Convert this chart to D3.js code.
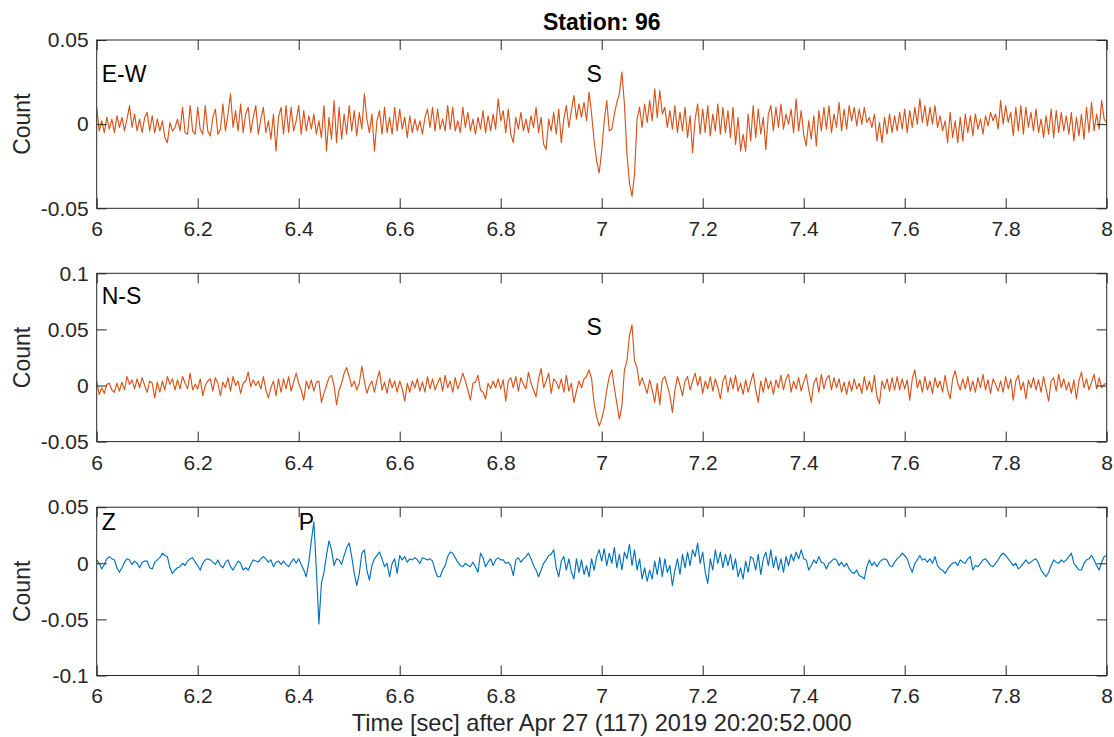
<!DOCTYPE html>
<html>
<head>
<meta charset="utf-8">
<script src="https://cdn.jsdelivr.net/npm/d3@7"></script>
<style>
  body { margin: 0; background: #fff; }
  svg { display: block; }
  text { font-family: "Liberation Sans", Arial, Helvetica, sans-serif; }
</style>
</head>
<body>
<svg id="chart" width="1114" height="737"></svg>
<script>
// ---------------- data ----------------
const chartTitle = "Station: 96";
const xAxisLabel = "Time [sec] after Apr 27 (117) 2019 20:20:52.000";
const yAxisLabel = "Count";
const startTime = 6;          // seconds
const sampleInterval = 0.005; // seconds between samples
const timeDomain = [6, 8];

const xTicks = [6, 6.2, 6.4, 6.6, 6.8, 7, 7.2, 7.4, 7.6, 7.8, 8];
const xTickLabels = ["6", "6.2", "6.4", "6.6", "6.8", "7", "7.2", "7.4", "7.6", "7.8", "8"];

const componentNames = ["E-W", "N-S", "Z"];
const phaseNames = ["S", "S", "P"];
const phaseTimes = [6.97, 6.97, 6.40];

const ewYDomain = [-0.05, 0.05];
const ewYTicks = [-0.05, 0, 0.05];
const ewYTickLabels = ["-0.05", "0", "0.05"];
const nsYDomain = [-0.05, 0.1];
const nsYTicks = [-0.05, 0, 0.05, 0.1];
const nsYTickLabels = ["-0.05", "0", "0.05", "0.1"];
const zYDomain = [-0.1, 0.05];
const zYTicks = [-0.1, -0.05, 0, 0.05];
const zYTickLabels = ["-0.1", "-0.05", "0", "0.05"];

// E-W component, one value every 5 ms from 6.000 s to 8.000 s
const ewValues = [
 .010,-.004,.002,-.005,.004,-.003,.003,-.005,.005,-.002,
 .004,-.004,.003,.011,-.002,.006,-.004,.003,-.005,.004,
 .007,-.004,.005,-.005,.003,-.004,.002,-.008,-.011,.001,
 -.004,-.002,.003,-.004,.010,-.005,-.006,.011,-.004,-.006,
 .010,-.003,-.006,.011,-.004,-.007,.004,.009,-.006,-.003,
 .012,-.004,.006,.018,-.002,.008,-.004,.012,-.005,.006,
 .010,-.005,.004,.011,-.006,.003,.010,-.005,.002,-.009,
 .006,-.016,.004,.010,-.006,.011,-.005,.010,-.004,.002,
 .011,-.006,.008,-.004,.005,-.003,.006,-.006,.002,-.008,
 .011,-.016,.004,-.009,.014,-.011,.010,-.009,.006,-.006,
 .011,-.004,.008,-.007,.007,-.003,.018,.003,-.005,.006,
 -.016,.002,.008,-.006,.010,-.005,.004,-.006,.010,-.004,
 .009,-.003,.004,-.008,.005,-.005,.003,-.004,.002,-.006,
 .004,.009,-.002,.010,-.004,.009,-.003,.003,-.004,.011,
 -.003,.010,-.004,.002,-.005,.010,-.002,.007,-.004,.003,
 -.006,.004,-.003,.008,-.005,.005,-.004,.006,-.003,.015,
 .002,.008,-.005,.009,-.006,-.011,.004,-.003,.007,-.004,
 .003,-.005,.005,-.002,.010,-.005,.004,-.012,-.015,.003,
 -.004,.007,-.006,.009,-.011,.003,.011,-.002,.008,.017,
 .003,.012,.004,.013,.002,.019,.006,-.010,-.022,-.029,
 -.016,.002,.014,-.004,-.003,.006,.013,.018,.031,.012,
 -.018,-.035,-.043,-.030,.003,.010,-.002,.012,.001,.014,
 .002,.021,.004,.020,.006,.010,-.002,.008,-.003,.011,
 -.005,.007,-.004,.010,-.008,.005,-.017,.003,.012,-.006,
 .009,-.005,.011,-.007,.006,-.004,.012,-.006,.010,-.005,
 .008,-.008,.010,-.012,.004,-.016,-.006,-.016,.006,-.010,
 .011,-.008,.009,-.006,.004,-.015,.006,.011,-.004,.010,
 -.002,.012,-.003,.006,.000,.009,-.005,.015,-.004,.008,
 -.006,-.013,.002,-.009,.005,-.013,.008,-.004,.010,-.003,
 .011,-.005,.006,-.002,.013,-.004,.009,-.003,.011,.002,
 .010,-.001,.009,.000,.010,.001,.004,-.002,.006,-.010,
 .001,-.011,.004,-.006,.006,-.005,.005,-.004,.007,-.003,
 .009,-.005,.008,-.002,.010,.000,.015,.001,.011,-.001,
 .010,.000,.011,-.002,.005,-.004,.002,-.011,.007,-.008,
 .002,-.011,.004,-.010,.006,-.005,.005,-.007,.006,-.003,
 .003,-.006,.005,-.001,.007,.002,.006,-.003,.014,.000,
 .011,.001,.007,-.007,.010,-.004,.011,-.006,.010,-.002,
 .007,-.004,.009,-.005,.003,-.008,.005,-.006,.009,-.008,
 .008,-.005,.007,-.004,.005,-.006,.007,-.010,.004,-.007,
 .006,-.009,.010,-.005,.013,-.004,.006,-.003,.014,.003,
 .001
];

// N-S component
const nsValues = [
 .004,-.008,-.002,-.007,.001,.002,-.004,-.006,.002,-.005,
 .003,-.004,.008,.001,.005,-.003,.006,-.002,.007,.000,
 -.006,.004,.002,-.011,.003,-.006,.004,-.004,.008,.001,
 .006,-.004,.005,-.003,.008,.002,-.003,.011,-.004,.001,
 -.003,.006,-.009,.000,.004,.006,-.005,.007,.002,-.009,
 .003,-.002,.007,-.005,.008,.000,.004,-.007,.002,.004,
 .012,-.001,.005,.000,.004,-.003,.008,-.004,-.011,-.002,
 .004,-.009,.006,-.006,.006,-.003,.008,-.005,.003,.011,
 .002,-.004,-.013,.004,-.003,.005,-.005,.003,.004,-.015,
 -.007,.000,.007,.009,.000,-.017,-.004,.002,.011,.016,
 .008,-.001,.004,-.004,.002,.017,.004,-.007,.000,.004,
 -.006,.005,.013,-.004,.003,-.007,.006,-.002,.004,-.006,
 .004,-.003,-.014,.002,-.006,.004,-.002,.006,-.005,.003,
 -.006,.008,-.003,.006,-.004,.002,.007,-.005,.009,-.002,
 .004,-.006,.007,-.003,.003,.011,.004,-.004,-.013,.002,
 .003,.009,-.004,-.006,-.012,.002,-.003,.004,-.002,.006,
 -.003,.005,-.014,.004,.007,-.002,.008,-.005,.007,.001,
 -.003,.012,.002,-.004,-.010,.006,.015,-.002,.004,.011,
 -.007,.006,.003,-.003,.006,-.006,.009,-.005,.002,-.015,
 -.005,.004,-.002,.006,.008,.014,.006,-.016,-.028,-.036,
 -.030,-.020,-.004,.008,.014,-.002,-.016,-.030,-.018,.014,
 .022,.045,.054,.022,.016,.000,.007,.000,-.007,.005,
 -.004,-.015,.002,-.017,.005,.008,.000,-.009,-.024,-.004,
 .008,.000,-.009,.004,.008,-.004,.004,.011,.000,.008,
 -.007,.004,-.003,.008,-.005,.006,-.002,-.012,.004,.009,
 -.006,.007,-.003,.009,-.005,.002,-.008,.005,-.006,.003,
 .011,-.004,-.015,.004,-.006,.007,-.003,.004,-.008,.005,
 -.002,.009,-.004,.006,.010,-.006,.004,-.003,.007,-.005,
 .003,.010,-.004,-.015,.002,.007,-.006,.010,-.003,.006,
 .009,-.004,.007,-.002,.006,-.006,.003,-.008,.004,-.005,
 .006,-.003,.002,-.007,.008,-.004,.004,-.006,.009,-.010,
 -.016,.004,-.003,.006,-.005,.007,-.004,.008,-.004,.006,
 -.003,.005,-.013,.006,.014,-.002,.005,-.006,.008,-.004,
 .004,-.007,.007,-.002,.004,-.006,.009,-.004,-.012,.006,
 .013,.002,-.004,.006,-.003,.008,-.005,.004,-.006,.007,
 -.002,.010,-.004,.005,-.007,.006,.001,-.005,.004,-.006,
 .008,-.003,.006,-.013,.004,.009,-.004,.003,-.012,.005,
 -.002,.007,-.004,.005,-.006,.008,-.003,-.014,.004,.007,
 -.005,.010,-.002,.006,-.004,.003,-.007,.005,-.012,.004,
 .012,-.002,.006,-.004,.003,.010,-.003,.007,-.002,.001,
 .002
];

// Z (vertical) component
const zValues = [
 .003,.000,-.005,-.001,.004,.006,.004,.003,-.004,-.008,
 -.004,.001,.004,.003,-.001,.002,.000,-.004,.001,.002,
 .002,-.004,-.005,.001,.003,.005,.009,.007,.006,-.004,
 -.009,-.006,-.004,-.003,.000,-.002,.002,.004,.005,.001,
 -.002,-.006,.000,.003,.004,.003,.001,-.001,.003,-.002,
 -.004,.001,.003,-.003,-.006,-.002,.002,.000,-.006,-.004,
 -.006,-.001,.003,.002,.001,.004,.006,.004,.001,.003,
 -.003,.001,.002,-.001,.002,-.001,-.003,.001,.004,.000,
 .004,-.001,-.006,-.012,.001,.020,.037,-.006,-.054,-.018,
 -.008,.007,.020,.012,-.002,.004,.003,-.001,.007,.014,
 .018,.006,-.009,-.020,-.009,.009,.012,-.006,-.015,-.002,
 .004,.007,.010,.004,-.003,.000,-.012,.000,.004,-.009,
 .007,.003,.006,.001,.004,.003,.005,.003,.000,.005,
 .004,.003,.004,.002,-.006,-.012,-.012,-.006,-.002,.006,
 .010,.009,.005,.001,-.002,-.003,.000,-.002,-.003,.001,
 -.003,-.008,.009,.005,-.003,.001,.004,-.002,.003,.005,
 .003,.003,.000,.001,-.002,-.011,.003,.005,.001,.004,
 .006,.009,.004,-.002,-.006,-.012,-.006,.000,.003,.007,
 .008,.012,-.004,-.012,.002,.006,-.006,.004,-.008,-.014,
 .004,-.008,.003,-.010,-.002,-.012,.004,-.006,.006,.012,
 .002,.013,-.002,.009,.000,.014,-.004,.008,-.006,.010,
 .004,.017,-.002,.012,-.006,.004,-.014,-.004,-.016,-.006,
 -.014,.002,-.010,.005,-.012,.004,-.008,-.002,-.020,-.006,
 .004,-.010,.008,-.004,.010,-.002,.012,.006,.018,.000,
 .010,-.008,-.018,.004,-.006,.012,.000,.010,-.004,.008,
 -.002,.008,-.006,.004,-.012,-.004,-.014,.002,-.008,.006,
 .004,-.006,.008,-.010,.004,.010,-.002,.012,-.004,.006,
 -.006,.004,-.008,.006,-.002,.008,.002,.010,.004,.012,
 .004,.003,-.006,-.002,.003,.000,.006,.001,.000,-.005,
 .000,.002,.004,.003,-.002,.001,-.003,.000,-.005,-.008,
 -.009,-.006,-.011,-.012,-.014,-.003,.003,-.002,.001,-.003,
 .001,.003,.004,.003,-.002,-.003,.001,.004,.006,.009,
 .007,.004,-.003,-.008,.000,.003,.007,.003,.004,.001,
 .004,.000,.006,-.002,-.005,-.006,-.009,-.005,-.002,.000,
 .001,-.002,.003,.001,.000,.004,.006,-.006,-.002,-.003,
 .000,.003,.004,.001,-.002,-.003,.000,.003,.007,.009,
 .007,.004,.001,-.002,.000,-.005,-.003,.000,.003,.000,
 .001,.003,.004,.000,-.006,-.009,-.012,-.008,-.002,.003,
 .001,.000,.003,.001,.003,.006,.009,.000,-.003,-.006,
 -.006,.000,.003,.004,.007,.003,-.002,-.006,.001,.006,
 .007
];

// ---------------- layout & style ----------------
const plotLeft = 96.7, plotRight = 1106.7;
const panelTops = [40, 273.3, 507.2];
const panelHeight = 168.3;
const componentLabelY = [0.03, 0.08, 0.037];
const phaseLabelY = [0.03, 0.052, 0.037];
const axisColor = "#262626";
const orange = "#D95319", blue = "#0072BD";

const panels = [
  { values: ewValues, color: orange, yDomain: ewYDomain, yTicks: ewYTicks, yTickLabels: ewYTickLabels },
  { values: nsValues, color: orange, yDomain: nsYDomain, yTicks: nsYTicks, yTickLabels: nsYTickLabels },
  { values: zValues,  color: blue,   yDomain: zYDomain,  yTicks: zYTicks,  yTickLabels: zYTickLabels }
];

const svg = d3.select("#chart");
const x = d3.scaleLinear().domain(timeDomain).range([plotLeft, plotRight]);
const tickFont = 21, labelFont = 23;

function styleAxis(g) {
  g.select(".domain").remove();
  g.selectAll(".tick line").attr("stroke", axisColor).attr("stroke-width", 1);
  g.selectAll(".tick text").attr("fill", axisColor)
    .style("font-size", tickFont + "px")
    .style("font-family", '"Liberation Sans", Arial, Helvetica, sans-serif');
  g.attr("font-family", null).attr("font-size", null);
}

panels.forEach((p, i) => {
  const top = panelTops[i], bottom = top + panelHeight;
  const y = d3.scaleLinear().domain(p.yDomain).range([bottom, top]);
  const g = svg.append("g");

  g.append("clipPath").attr("id", "clip" + i)
    .append("rect").attr("x", plotLeft).attr("y", top)
    .attr("width", plotRight - plotLeft).attr("height", panelHeight);

  const line = d3.line()
    .x((d, j) => x(startTime + j * sampleInterval))
    .y(d => y(d));

  g.append("path")
    .datum(p.values)
    .attr("clip-path", `url(#clip${i})`)
    .attr("d", line)
    .attr("fill", "none")
    .attr("stroke", p.color)
    .attr("stroke-width", 1.15)
    .attr("stroke-linejoin", "round");

  // axes (ticks inside, MATLAB style)
  g.append("g").attr("transform", `translate(0,${bottom})`)
    .call(d3.axisBottom(x).tickValues(xTicks).tickFormat((d, k) => xTickLabels[k])
      .tickSizeInner(-10).tickSizeOuter(0).tickPadding(13))
    .call(styleAxis);
  g.append("g").attr("transform", `translate(0,${top})`)
    .call(d3.axisTop(x).tickValues(xTicks).tickFormat("")
      .tickSizeInner(-10).tickSizeOuter(0))
    .call(styleAxis);
  g.append("g").attr("transform", `translate(${plotLeft},0)`)
    .call(d3.axisLeft(y).tickValues(p.yTicks).tickFormat((d, k) => p.yTickLabels[k])
      .tickSizeInner(-10).tickSizeOuter(0).tickPadding(8))
    .call(styleAxis);
  g.append("g").attr("transform", `translate(${plotRight},0)`)
    .call(d3.axisRight(y).tickValues(p.yTicks).tickFormat("")
      .tickSizeInner(-10).tickSizeOuter(0))
    .call(styleAxis);

  g.append("rect")
    .attr("x", plotLeft).attr("y", top)
    .attr("width", plotRight - plotLeft).attr("height", panelHeight)
    .attr("fill", "none").attr("stroke", axisColor).attr("stroke-width", 1);

  // y label
  g.append("text")
    .attr("transform", `translate(30,${(top + bottom) / 2}) rotate(-90)`)
    .attr("text-anchor", "middle")
    .attr("fill", axisColor)
    .style("font-size", labelFont + "px")
    .text(yAxisLabel);

  // component & phase annotations
  g.append("text")
    .attr("x", x(6.01)).attr("y", y(componentLabelY[i])).attr("dy", "0.35em")
    .attr("fill", "#000").style("font-size", labelFont + "px")
    .text(componentNames[i]);
  g.append("text")
    .attr("x", x(phaseTimes[i])).attr("y", y(phaseLabelY[i])).attr("dy", "0.35em")
    .attr("fill", "#000").style("font-size", labelFont + "px")
    .text(phaseNames[i]);
});

// title
svg.append("text")
  .attr("x", (plotLeft + plotRight) / 2).attr("y", 30)
  .attr("text-anchor", "middle").attr("fill", "#000")
  .style("font-size", labelFont + "px").style("font-weight", "bold")
  .text(chartTitle);

// x label
svg.append("text")
  .attr("x", (plotLeft + plotRight) / 2).attr("y", 731)
  .attr("text-anchor", "middle").attr("fill", axisColor)
  .style("font-size", "23.6px")
  .text(xAxisLabel);
</script>
</body>
</html>
